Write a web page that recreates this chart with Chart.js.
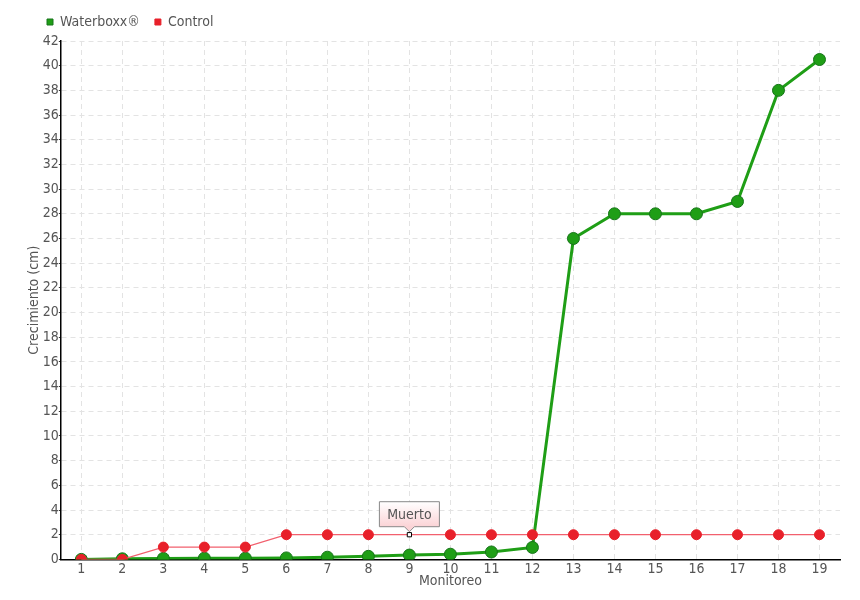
<!DOCTYPE html>
<html>
<head>
<meta charset="utf-8">
<script src="https://cdn.jsdelivr.net/npm/chart.js@4.4.1/dist/chart.umd.min.js"></script>
<style>
  html, body { margin: 0; padding: 0; background: #fff; }
  #wrap { width: 860px; height: 600px; }
</style>
</head>
<body>
<div id="wrap"><canvas id="chart"></canvas></div>
<script>
const monitoreo = ['1','2','3','4','5','6','7','8','9','10','11','12','13','14','15','16','17','18','19'];
const waterboxx = [0, 0.05, 0.08, 0.1, 0.1, 0.12, 0.18, 0.25, 0.35, 0.42, 0.6, 0.97, 26, 28, 28, 28, 29, 38, 40.5];
const control = [0, 0, 1, 1, 1, 2, 2, 2, 2, 2, 2, 2, 2, 2, 2, 2, 2, 2, 2];
const muertoIndex = 8;
const muertoText = 'Muerto';

const FONT = '"DejaVu Sans Condensed", "Liberation Sans Narrow", sans-serif';
const TXT = '#555';

// white square marker for the dead plant
const ctrlStyle = control.map((v, i) => i === muertoIndex ? 'rect' : 'circle');
const ctrlBg = control.map((v, i) => i === muertoIndex ? '#fff' : '#e8202a');
const ctrlBorder = control.map((v, i) => i === muertoIndex ? '#000' : '#e8202a');
const ctrlRadius = control.map((v, i) => i === muertoIndex ? 3 : 5);

// legend: a bit more room under it, and nudged to the right
const legendTweak = {
  id: 'legendTweak',
  beforeLayout(chart) {
    const lg = chart.legend;
    if (lg && !lg._tweaked) {
      const fit = lg.fit;
      lg.fit = function () { fit.call(this); this.height += 2; };
      lg._tweaked = true;
    }
  },
  afterLayout(chart) {
    if (chart.legend) chart.legend.left += 6;
  }
};

const muertoLabel = {
  id: 'muertoLabel',
  afterDatasetsDraw(chart) {
    const x = chart.scales.x.getPixelForValue(muertoIndex);
    const y = chart.scales.y.getPixelForValue(control[muertoIndex]);
    const ctx = chart.ctx;
    const w = 60, h = 25, top = y - 33;
    const left = x - w / 2;
    ctx.save();
    const g = ctx.createLinearGradient(0, top, 0, top + h);
    g.addColorStop(0, '#ffffff');
    g.addColorStop(1, '#fbd3d6');
    ctx.beginPath();
    ctx.moveTo(left, top);
    ctx.lineTo(left + w, top);
    ctx.lineTo(left + w, top + h);
    ctx.lineTo(x + 5, top + h);
    ctx.lineTo(x, top + h + 5);
    ctx.lineTo(x - 5, top + h);
    ctx.lineTo(left, top + h);
    ctx.closePath();
    ctx.fillStyle = g;
    ctx.fill();
    ctx.strokeStyle = '#888';
    ctx.lineWidth = 1;
    ctx.stroke();
    ctx.fillStyle = TXT;
    ctx.font = '14px ' + FONT;
    ctx.textAlign = 'center';
    ctx.textBaseline = 'middle';
    ctx.fillText(muertoText, x, top + h / 2 + 1);
    ctx.restore();
  }
};

new Chart(document.getElementById('chart'), {
  type: 'line',
  data: {
    labels: monitoreo,
    datasets: [
      {
        label: 'Waterboxx®',
        data: waterboxx,
        borderColor: '#1f9e16',
        backgroundColor: '#1f9e16',
        pointBackgroundColor: '#1f9e16',
        pointBorderColor: '#17741a',
        pointBorderWidth: 1,
        pointRadius: 6,
        borderWidth: 3,
        tension: 0,
        order: 2
      },
      {
        label: 'Control',
        data: control,
        borderColor: '#f2606e',
        backgroundColor: '#e8202a',
        pointStyle: ctrlStyle,
        pointBackgroundColor: ctrlBg,
        pointBorderColor: ctrlBorder,
        pointBorderWidth: 1,
        pointRadius: ctrlRadius,
        borderWidth: 1.2,
        tension: 0,
        order: 1
      }
    ]
  },
  options: {
    responsive: true,
    maintainAspectRatio: false,
    animation: false,
    layout: { padding: { left: 26, right: 20, top: 0, bottom: 10 } },
    plugins: {
      tooltip: { enabled: false },
      legend: {
        position: 'top',
        align: 'start',
        labels: {
          usePointStyle: true,
          pointStyle: 'rect',
          boxWidth: 6,
          boxHeight: 6,
          padding: 15,
          color: TXT,
          font: { family: FONT, size: 14 },
          sort: (a, b) => a.datasetIndex - b.datasetIndex
        }
      }
    },
    scales: {
      x: {
        offset: true,
        grid: { color: '#e3e3e3', drawTicks: false, offset: false },
        border: { color: '#000', width: 1.5, dash: [5, 4] },
        ticks: { color: TXT, font: { family: FONT, size: 14 }, padding: 2, maxRotation: 0 },
        title: { display: true, text: 'Monitoreo', color: TXT, font: { family: FONT, size: 14 }, padding: { top: -7, bottom: 0 } }
      },
      y: {
        min: 0,
        max: 42,
        grid: { color: '#e3e3e3', tickLength: 2, tickColor: '#333' },
        border: { color: '#000', width: 1.5, dash: [5, 4] },
        ticks: { stepSize: 2, color: TXT, font: { family: FONT, size: 14 }, padding: 0 },
        title: { display: true, text: 'Crecimiento (cm)', color: TXT, font: { family: FONT, size: 14 }, padding: 0 }
      }
    }
  },
  plugins: [legendTweak, muertoLabel]
});
</script>
</body>
</html>
